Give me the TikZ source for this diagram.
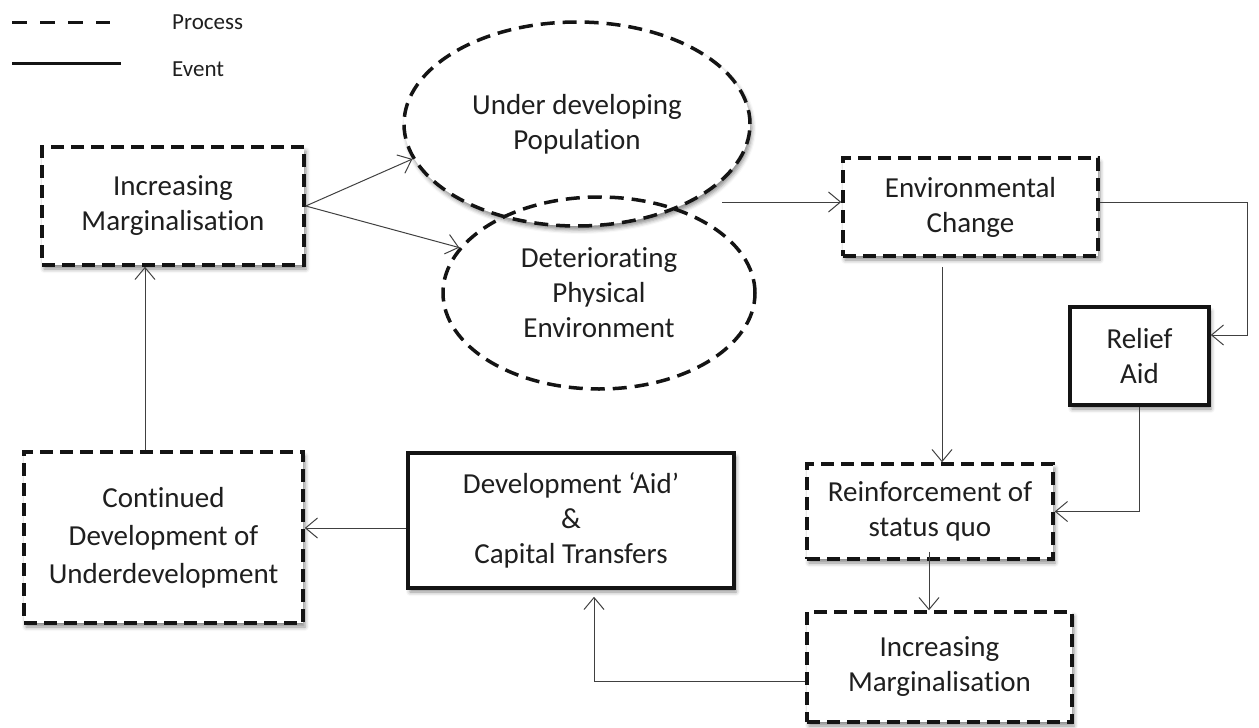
\documentclass[tikz,border=0pt]{standalone}
\usepackage{fontspec}
\setmainfont{Carlito}[RawFeature=-liga]
\usetikzlibrary{arrows.meta,shadows.blur,shapes.geometric,calc}

\begin{document}
\begin{tikzpicture}[x=1pt,y=-1pt,
  txt/.style={font=\fontsize{29}{35}\selectfont, text=black!88, align=center},
  softshadow/.style={blur shadow={shadow xshift=2pt, shadow yshift=-4pt,
      shadow blur radius=4pt, shadow opacity=45}},
  process/.style={txt, rectangle, draw=black!92, line width=3.5pt,
      dash pattern=on 13pt off 7pt, fill=white, inner sep=0pt, softshadow},
  event/.style={process, solid},
  blob/.style={txt, ellipse, draw=black!92, line width=3.5pt,
      dash pattern=on 14pt off 8pt, inner sep=0pt},
  link/.style={draw=black!75, line width=1pt,
      -{Straight Barb[length=12pt,width=20pt]}},
  legendtxt/.style={font=\fontsize{23}{26}\selectfont, text=black!88,
      anchor=base west, inner sep=0pt},
]
\useasboundingbox (0,0) rectangle (1259,728);

% legend
\coordinate (pa) at (12,22.5);
\coordinate (pb) at (110,22.5);
\coordinate (ea) at (12,63.5);
\coordinate (eb) at (121,63.5);
\draw[line width=3.2pt, black!92, dash pattern=on 15pt off 13pt] (pa) -- (pb);
\draw[line width=3.2pt, black!92] (ea) -- (eb);
\node[legendtxt] (lproc) at (172,29) {Process};
\node[legendtxt] (levent) at (172,76) {Event};

% shapes
\node[process, minimum width=262pt, minimum height=118pt] (mar1) at (173,206)
  {Increasing\\Marginalisation};
\node[blob, fill=white, softshadow, minimum width=346pt, minimum height=204pt]
  (pop) at (577,124) {Under developing\\Population};
\node[blob, minimum width=312pt, minimum height=192pt] (phys) at (599,293)
  {Deteriorating\\Physical\\Environment};
\node[process, minimum width=255pt, minimum height=98pt] (env) at (970.5,207)
  {Environmental\\Change};
\node[event, minimum width=139pt, minimum height=98pt] (relief) at (1139.5,356)
  {Relief\\Aid};
\node[process, minimum width=246pt, minimum height=95pt] (reinf) at (930,511.5)
  {Reinforcement of\\status quo};
\node[process, minimum width=265pt, minimum height=110pt] (mar2) at (939.5,667)
  {Increasing\\Marginalisation};
\node[process, minimum width=279pt, minimum height=171pt,
  font=\fontsize{29}{38}\selectfont] (cont) at (163.5,537.5)
  {Continued\\Development of\\Underdevelopment};
\node[event, minimum width=326pt, minimum height=135pt] (devaid) at (571,520.5)
  {Development `Aid'\\\&\\Capital Transfers};

% connectors
\draw[link] (mar1.east) -- (pop.192);
\draw[link] (mar1.east) -- (phys.162);
\coordinate (fork) at ($(pop.center)+(145,78)$);
\draw[link] (fork) -- (fork -| env.west);
\draw[link] ($(env.east)+(0,-5)$) -- ++(148,0) |- ($(relief.east)+(0,-21)$);
\coordinate (envdown) at ($(env.south)+(-28.5,9)$);
\draw[link] (envdown) -- (envdown |- reinf.north);
\draw[link] (relief.south) |- (reinf.east);
\coordinate (reinfdown) at ($(reinf.south)+(-1,-9)$);
\draw[link] (reinfdown) -- (reinfdown |- mar2.north);
\draw[link] ($(mar2.west)+(0,14)$) -| ($(devaid.south)+(23,7)$);
\coordinate (aidleft) at ($(devaid.west)+(0,7.5)$);
\draw[link] (aidleft) -- (aidleft -| cont.east);
\coordinate (contup) at ($(cont.north)+(-18.5,0)$);
\draw[link] (contup) -- (contup |- mar1.south);
\end{tikzpicture}
\end{document}
